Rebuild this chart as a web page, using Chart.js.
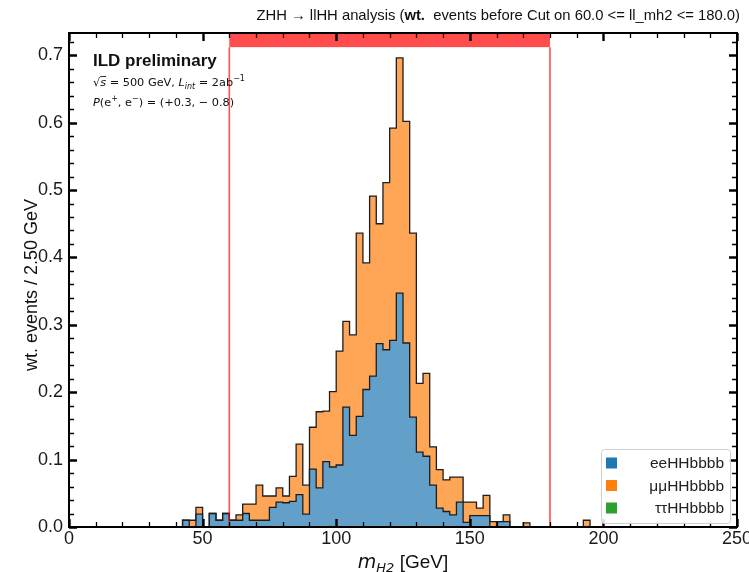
<!DOCTYPE html>
<html>
<head>
<meta charset="utf-8">
<script src="https://cdn.jsdelivr.net/npm/chart.js@4.4.1/dist/chart.umd.min.js"></script>
<style>
html, body { margin: 0; padding: 0; background: #fff; }
</style>
</head>
<body>
<canvas id="histChart" width="749" height="572"></canvas>
<script>
// histogram bins: 2.5 GeV wide, first bin starts at 40 GeV
const binStart = 40;
const binWidth = 2.5;
const eeValues = [
    0, 0.010, 0, 0.019, 0, 0.020, 0.010, 0.020,
    0.010, 0.010, 0.020, 0.010, 0.010, 0.010, 0.029, 0.037,
    0.036, 0.038, 0.048, 0.019, 0.086, 0.058, 0.097, 0.089,
    0.092, 0.178, 0.136, 0.164, 0.204, 0.224, 0.272, 0.263,
    0.277, 0.347, 0.273, 0.163, 0.111, 0.105, 0.062, 0.028,
    0.023, 0.018, 0.037, 0.007, 0.017, 0.017, 0.017, 0,
    0.008, 0.008, 0, 0, 0, 0, 0, 0,
    0, 0, 0, 0, 0, 0, 0, 0
];
const mumuValues = [
    0, 0, 0.010, 0.010, 0, 0, 0, 0,
    0, 0.008, 0.014, 0.024, 0.052, 0.036, 0.017, 0.021,
    0.010, 0.037, 0.075, 0.043, 0.062, 0.113, 0.075, 0.112,
    0.169, 0.127, 0.149, 0.272, 0.188, 0.267, 0.178, 0.248,
    0.315, 0.349, 0.329, 0.273, 0.102, 0.123, 0.057, 0.057,
    0.047, 0.056, 0.037, 0.030, 0.020, 0.011, 0.030, 0.008,
    0, 0.010, 0, 0, 0.006, 0, 0, 0,
    0, 0, 0, 0, 0, 0.010, 0, 0
];
const tautauValues = []; // nothing left for this channel
const seriesLabels = ["eeHHbbbb", "μμHHbbbb", "ττHHbbbb"];
const xTicks = [0, 50, 100, 150, 200, 250];
const yTicks = [0.0, 0.1, 0.2, 0.3, 0.4, 0.5, 0.6, 0.7];
const cutLow = 60.0;
const cutHigh = 180.0;

const blueFill = "rgba(31, 119, 180, 0.7)";
const orangeFill = "rgba(255, 127, 14, 0.7)";
const legendColors = ["#1f77b4", "#ff7f0e", "#2ca02c"];
const sans = "'Liberation Sans', Arial, sans-serif";
const dejavu = "'DejaVu Sans', sans-serif";

// step points (stacked): each point sits on the left edge of its bin
const eePoints = [];
const totalPoints = [];
eeValues.forEach((v, i) => {
    const edge = binStart + i * binWidth;
    eePoints.push({ x: edge, y: v });
    totalPoints.push({ x: edge, y: v + mumuValues[i] });
});
const lastEdge = binStart + eeValues.length * binWidth;
eePoints.push({ x: lastEdge, y: 0 });
totalPoints.push({ x: lastEdge, y: 0 });

// draws a row of text pieces with their own fonts / offsets
function drawRich(ctx, parts, x, y, align) {
    let total = 0;
    parts.forEach(p => { ctx.font = p.font; p.w = ctx.measureText(p.t).width; total += p.w; });
    let cx = x;
    if (align === "right") cx = x - total;
    if (align === "center") cx = x - total / 2;
    parts.forEach(p => {
        ctx.font = p.font;
        ctx.fillText(p.t, cx, y + (p.dy || 0));
        if (p.over) {
            ctx.save();
            ctx.lineWidth = 0.8;
            ctx.beginPath();
            ctx.moveTo(cx, y - p.over);
            ctx.lineTo(cx + p.w, y - p.over);
            ctx.stroke();
            ctx.restore();
        }
        cx += p.w;
    });
    return total;
}

const decorPlugin = {
    id: "decor",
    afterDatasetsDraw(chart) {
        const ctx = chart.ctx;
        const xs = chart.scales.x, ys = chart.scales.y;
        const a = chart.chartArea;
        const x1 = xs.getPixelForValue(cutLow), x2 = xs.getPixelForValue(cutHigh);
        const bandBottom = ys.getPixelForValue(0.712);
        ctx.save();
        ctx.fillStyle = "rgba(255, 0, 0, 0.7)";
        ctx.fillRect(x1, a.top, x2 - x1, bandBottom - a.top);
        ctx.strokeStyle = "rgba(255, 0, 0, 0.7)";
        ctx.lineWidth = 1.6;
        [x1, x2].forEach(px => {
            ctx.beginPath();
            ctx.moveTo(px, bandBottom);
            ctx.lineTo(px, a.bottom);
            ctx.stroke();
        });
        ctx.restore();
    },
    afterDraw(chart) {
        const ctx = chart.ctx;
        const xs = chart.scales.x, ys = chart.scales.y;
        const a = chart.chartArea;
        ctx.save();
        ctx.strokeStyle = "#000";

        // inward ticks on all four sides
        for (let v = 0; v <= 250; v += 10) {
            const px = Math.round(xs.getPixelForValue(v)) + 0.5;
            const major = v % 50 === 0;
            const len = major ? 8 : 5;
            ctx.lineWidth = major ? 2.4 : 1.3;
            ctx.beginPath();
            ctx.moveTo(px, a.bottom); ctx.lineTo(px, a.bottom - len);
            ctx.moveTo(px, a.top); ctx.lineTo(px, a.top + len);
            ctx.stroke();
        }
        for (let k = 0; k <= 36; k++) {
            const v = k * 0.02;
            const py = Math.round(ys.getPixelForValue(v)) + 0.5;
            const major = k % 5 === 0;
            const len = major ? 8 : 5;
            ctx.lineWidth = major ? 2.4 : 1.3;
            ctx.beginPath();
            ctx.moveTo(a.left, py); ctx.lineTo(a.left + len, py);
            ctx.moveTo(a.right, py); ctx.lineTo(a.right - len, py);
            ctx.stroke();
        }
        ctx.lineWidth = 2;
        ctx.strokeRect(a.left, a.top, a.right - a.left, a.bottom - a.top);

        // title
        ctx.fillStyle = "#111";
        ctx.textBaseline = "alphabetic";
        const ts = 14.8;
        drawRich(ctx, [
            { t: "ZHH \u2192 llHH analysis (", font: ts + "px " + sans },
            { t: "wt.", font: "bold " + ts + "px " + sans },
            { t: "  events before Cut on " + cutLow.toFixed(1) + " <= ll_mh2 <= " + cutHigh.toFixed(1) + ")", font: ts + "px " + sans }
        ], 740, 20, "right");

        // ILD label block
        ctx.font = "bold 17px " + sans;
        ctx.fillText("ILD preliminary", 93, 66);
        const fs = 11.3;
        const f = fs + "px " + dejavu, fi = "italic " + fs + "px " + dejavu;
        const fsub = "italic 8px " + dejavu, fsup = "8px " + dejavu;
        drawRich(ctx, [
            { t: "\u221A", font: f },
            { t: "s", font: fi, over: 9.5 },
            { t: " = 500 GeV, ", font: f },
            { t: "L", font: fi },
            { t: "int", font: fsub, dy: 2.5 },
            { t: " = 2ab", font: f },
            { t: "\u22121", font: fsup, dy: -5 }
        ], 93, 86, "left");
        drawRich(ctx, [
            { t: "P", font: fi },
            { t: "(e", font: f },
            { t: "+", font: fsup, dy: -5 },
            { t: ", e", font: f },
            { t: "\u2212", font: fsup, dy: -5 },
            { t: ") = (+0.3, \u2212 0.8)", font: f }
        ], 93, 106, "left");

        // axis titles
        drawRich(ctx, [
            { t: "m", font: "italic 19px " + dejavu },
            { t: "H2", font: "italic 13px " + dejavu, dy: 4 },
            { t: " [GeV]", font: "19px " + sans }
        ], (a.left + a.right) / 2, 568, "center");
        ctx.save();
        ctx.translate(37, 285);
        ctx.rotate(-Math.PI / 2);
        ctx.font = "18px " + sans;
        ctx.textAlign = "center";
        ctx.fillText("wt. events / 2.50 GeV", 0, 0);
        ctx.restore();

        // legend
        const lx = 601, ly = 449, lw = 129, lh = 74;
        ctx.fillStyle = "rgba(255,255,255,0.85)";
        ctx.strokeStyle = "#d0d0d0";
        ctx.lineWidth = 1;
        ctx.beginPath();
        ctx.roundRect(lx + 0.5, ly + 0.5, lw, lh, 3);
        ctx.fill();
        ctx.stroke();
        ctx.font = "15.5px " + sans;
        ctx.textAlign = "right";
        ctx.textBaseline = "middle";
        seriesLabels.forEach((lab, i) => {
            const cy = 463 + i * 22.5;
            ctx.fillStyle = legendColors[i];
            ctx.fillRect(606, cy - 5.5, 11, 11);
            ctx.fillStyle = "#222";
            ctx.fillText(lab, 724, cy + 1);
        });
        ctx.restore();
    }
};

const chart = new Chart(document.getElementById("histChart").getContext("2d"), {
    type: "line",
    data: {
        datasets: [
            {
                label: seriesLabels[0],
                data: eePoints,
                stepped: "before",
                fill: "origin",
                backgroundColor: blueFill,
                borderColor: "#1e1e1e",
                borderWidth: 1.3,
                pointRadius: 0,
            },
            {
                label: seriesLabels[1],
                data: totalPoints,
                stepped: "before",
                fill: "-1",
                backgroundColor: orangeFill,
                borderColor: "#1e1e1e",
                borderWidth: 1.3,
                pointRadius: 0,
            },
        ],
    },
    options: {
        responsive: false,
        animation: false,
        layout: { autoPadding: false, padding: { left: 0, right: 12, top: 33, bottom: 0 } },
        plugins: {
            legend: { display: false },
            tooltip: { enabled: false },
        },
        scales: {
            x: {
                type: "linear",
                min: 0,
                max: 250,
                grid: { display: false, drawTicks: false },
                border: { display: false },
                afterBuildTicks: s => { s.ticks = xTicks.map(v => ({ value: v })); },
                afterFit: s => { s.height = 45; s.paddingLeft = 0; s.paddingRight = 0; },
                ticks: {
                    padding: 1,
                    color: "#1a1a1a",
                    font: { family: sans, size: 18 },
                    maxRotation: 0,
                    callback: v => String(v),
                },
            },
            y: {
                min: 0,
                max: 0.733,
                grid: { display: false, drawTicks: false },
                border: { display: false },
                afterBuildTicks: s => { s.ticks = yTicks.map(v => ({ value: v })); },
                afterFit: s => { s.width = 69; s.paddingTop = 0; s.paddingBottom = 0; },
                ticks: {
                    padding: 6,
                    color: "#1a1a1a",
                    font: { family: sans, size: 18 },
                    callback: v => Number(v).toFixed(1),
                },
            },
        },
    },
    plugins: [decorPlugin],
});
</script>
</body>
</html>
